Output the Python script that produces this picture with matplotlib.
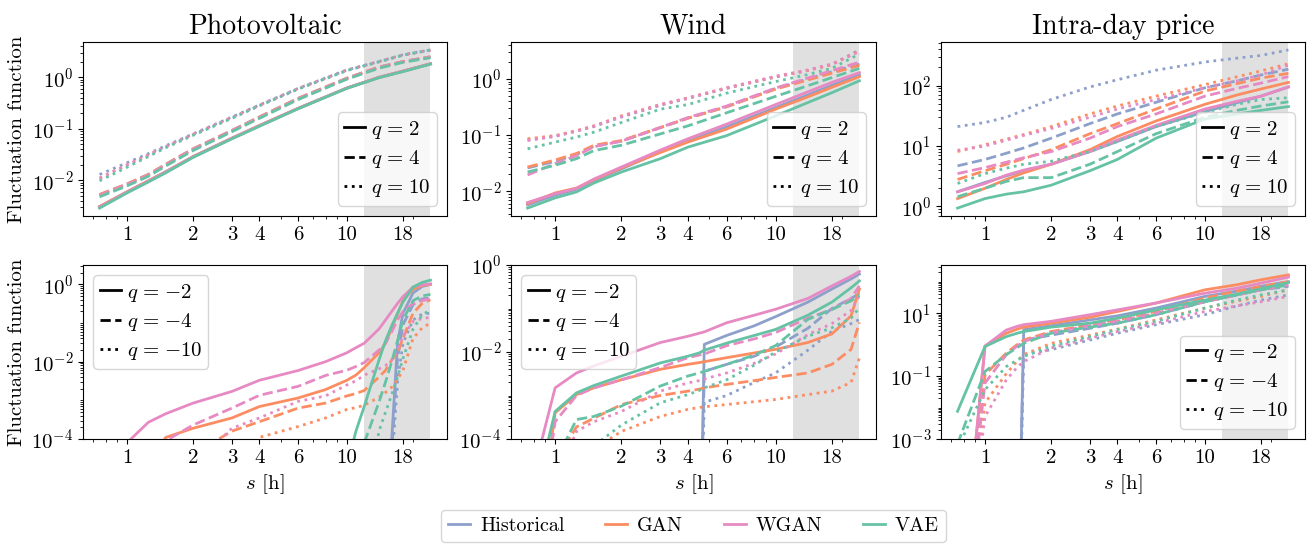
import matplotlib
matplotlib.use('Agg')
import matplotlib.pyplot as plt
from matplotlib.lines import Line2D
from matplotlib.ticker import (LogLocator, NullFormatter, FixedLocator, FixedFormatter,
                               LogFormatterSciNotation)

plt.rcParams.update({
    'font.family': 'serif',
    'font.serif': ['cmr10', 'DejaVu Serif'],
    'mathtext.fontset': 'cm',
    'axes.formatter.use_mathtext': True,
    'axes.unicode_minus': False,
    'font.size': 15,
})

# ---------------- data ----------------
MODELS = ['Historical', 'GAN', 'WGAN', 'VAE']
COLORS = {'Historical': '#8da0cb', 'GAN': '#fc8d62', 'WGAN': '#e78ac3', 'VAE': '#66c2a5'}
TITLES = ['Photovoltaic', 'Wind', 'Intra-day price']
Q_POS = [2, 4, 10]
Q_NEG = [-2, -4, -10]
X_TICKS = [1, 2, 3, 4, 6, 10, 18]
X_TICK_LABELS = ['1', '2', '3', '4', '6', '10', '18']
SHADE = (12, 24)

S_TOP = [0.75, 1, 1.25, 1.5, 2, 3, 4, 6, 10, 14, 18, 24]

# Photovoltaic, positive q
PV_Q2 = {
    'Historical': [0.0031, 0.0060, 0.0098, 0.0147, 0.029, 0.066, 0.116, 0.25, 0.62, 1.0, 1.32, 1.83],
    'GAN':        [0.0031, 0.0060, 0.0098, 0.0147, 0.029, 0.066, 0.116, 0.25, 0.62, 1.0, 1.32, 1.83],
    'WGAN':       [0.0030, 0.0059, 0.0096, 0.0145, 0.0285, 0.065, 0.114, 0.248, 0.615, 0.99, 1.31, 1.82],
    'VAE':        [0.0029, 0.0057, 0.0093, 0.014, 0.028, 0.064, 0.112, 0.245, 0.61, 0.98, 1.29, 1.8],
}
PV_Q4 = {
    'Historical': [0.0053, 0.0085, 0.013, 0.0205, 0.041, 0.093, 0.17, 0.39, 0.96, 1.58, 2.02, 2.5],
    'GAN':        [0.0053, 0.0085, 0.013, 0.0205, 0.041, 0.093, 0.17, 0.39, 0.96, 1.58, 2.02, 2.5],
    'WGAN':       [0.0051, 0.0082, 0.0125, 0.02, 0.04, 0.091, 0.166, 0.38, 0.94, 1.55, 2.0, 2.45],
    'VAE':        [0.0048, 0.0078, 0.012, 0.019, 0.038, 0.088, 0.16, 0.37, 0.92, 1.5, 1.95, 2.4],
}
PV_Q10 = {
    'Historical': [0.013, 0.022, 0.033, 0.047, 0.08, 0.17, 0.29, 0.61, 1.39, 2.03, 2.74, 3.4],
    'GAN':        [0.011, 0.020, 0.031, 0.045, 0.078, 0.165, 0.285, 0.60, 1.37, 2.0, 2.7, 3.35],
    'WGAN':       [0.011, 0.020, 0.031, 0.045, 0.078, 0.165, 0.285, 0.60, 1.37, 2.0, 2.7, 3.35],
    'VAE':        [0.0098, 0.018, 0.029, 0.043, 0.075, 0.16, 0.28, 0.59, 1.35, 2.0, 2.7, 3.4],
}

# Wind, positive q
WIND_Q2 = {
    'Historical': [0.0057, 0.0085, 0.0108, 0.0155, 0.025, 0.050, 0.078, 0.14, 0.31, 0.52, 0.77, 1.18],
    'GAN':        [0.0060, 0.0093, 0.0114, 0.016, 0.026, 0.049, 0.075, 0.128, 0.29, 0.48, 0.71, 1.1],
    'WGAN':       [0.0063, 0.0090, 0.0112, 0.0165, 0.027, 0.054, 0.086, 0.157, 0.35, 0.59, 0.87, 1.3],
    'VAE':        [0.0050, 0.0076, 0.0097, 0.014, 0.022, 0.038, 0.061, 0.098, 0.22, 0.38, 0.57, 0.93],
}
WIND_Q4 = {
    'Historical': [0.026, 0.034, 0.045, 0.063, 0.078, 0.135, 0.20, 0.32, 0.68, 1.0, 1.35, 1.85],
    'GAN':        [0.027, 0.036, 0.047, 0.066, 0.080, 0.137, 0.20, 0.32, 0.66, 0.96, 1.27, 1.75],
    'WGAN':       [0.0195, 0.031, 0.043, 0.062, 0.078, 0.137, 0.205, 0.33, 0.69, 1.04, 1.41, 2.0],
    'VAE':        [0.022, 0.029, 0.038, 0.053, 0.066, 0.105, 0.146, 0.25, 0.49, 0.76, 1.06, 1.55],
}
WIND_Q10 = {
    'Historical': [0.082, 0.095, 0.118, 0.142, 0.21, 0.34, 0.45, 0.68, 1.08, 1.42, 1.82, 3.3],
    'GAN':        [0.086, 0.098, 0.12, 0.146, 0.22, 0.35, 0.46, 0.69, 1.1, 1.42, 1.8, 3.2],
    'WGAN':       [0.080, 0.095, 0.118, 0.145, 0.215, 0.35, 0.46, 0.70, 1.12, 1.45, 1.85, 3.1],
    'VAE':        [0.057, 0.075, 0.092, 0.113, 0.168, 0.29, 0.35, 0.56, 0.9, 1.2, 1.55, 2.8],
}

# Intra-day price, positive q
PRICE_Q2 = {
    'Historical': [1.75, 2.5, 3.2, 3.9, 5.0, 8.1, 11.9, 21, 37, 52, 67, 95],
    'GAN':        [1.35, 2.0, 2.8, 3.6, 5.0, 8.7, 14.4, 26, 49, 70, 88, 113],
    'WGAN':       [1.75, 2.4, 3.3, 4.0, 5.0, 8.1, 12.6, 22, 41, 55, 67, 95],
    'VAE':        [0.94, 1.35, 1.6, 1.75, 2.25, 3.9, 6.0, 13.5, 28, 34, 39, 45],
}
PRICE_Q4 = {
    'Historical': [4.7, 6.0, 7.6, 9.3, 13.5, 23.5, 34, 53, 92, 120, 150, 187],
    'GAN':        [2.8, 3.9, 5.0, 6.2, 8.7, 16, 23.5, 41, 81, 108, 133, 160],
    'WGAN':       [3.5, 4.4, 5.4, 6.4, 8.1, 13.5, 21, 34, 67, 90, 110, 141],
    'VAE':        [1.45, 2.0, 2.6, 3.0, 3.0, 5.0, 8.1, 16, 30, 39, 46, 54],
}
PRICE_Q10 = {
    'Historical': [21, 24.5, 30, 39, 59, 95, 125, 180, 246, 285, 316, 390],
    'GAN':        [8.1, 10.5, 13, 15.5, 21, 34, 46, 67, 104, 140, 175, 230],
    'WGAN':       [8.5, 10, 12.5, 15, 19.5, 30, 41, 59, 92, 120, 150, 218],
    'VAE':        [2.4, 3.5, 4.3, 5.0, 5.6, 8.1, 11.9, 21, 36, 49, 59, 63],
}

# Photovoltaic, negative q
S_PV_NEG = [0.75, 1, 1.25, 1.5, 2, 3, 4, 6, 8, 10, 11, 12, 14, 15, 16, 17, 18, 20, 22, 24]
PV_QM2 = {
    'Historical': [1e-8, 1e-8, 1e-8, 1e-8, 1e-8, 1e-8, 1e-8, 1e-8, 1e-8, 1e-8, 1e-8, 1e-8, 1e-8, 1e-8,
                   1e-4, 0.03, 0.18, 0.6, 0.88, 1.0],
    'GAN':        [1e-8, 1e-7, 2e-5, 1.1e-4, 1.9e-4, 3.5e-4, 6.9e-4, 1.15e-3, 1.9e-3, 3.3e-3, 4.5e-3, 7e-3,
                   0.017, 0.03, 0.075, 0.17, 0.38, 0.75, 0.93, 1.0],
    'WGAN':       [1e-6, 8e-5, 2.7e-4, 4.5e-4, 8.5e-4, 1.7e-3, 3.3e-3, 5.9e-3, 1.0e-2, 1.7e-2, 2.3e-2, 3.0e-2,
                   0.07, 0.12, 0.2, 0.32, 0.48, 0.85, 0.97, 1.02],
    'VAE':        [1e-8, 1e-8, 1e-8, 1e-8, 1e-8, 1e-8, 1e-8, 1e-8, 1e-7, 2e-5, 1.6e-4, 7e-4,
                   0.011, 0.035, 0.085, 0.18, 0.35, 0.85, 1.12, 1.28],
}
PV_QM4 = {
    'Historical': [1e-8, 1e-8, 1e-8, 1e-8, 1e-8, 1e-8, 1e-8, 1e-8, 1e-8, 1e-8, 1e-8, 1e-8, 1e-8, 1e-8,
                   5e-5, 0.012, 0.09, 0.3, 0.42, 0.45],
    'GAN':        [1e-8, 1e-8, 1e-7, 5e-6, 4e-5, 1.6e-4, 2.8e-4, 6.3e-4, 8.5e-4, 1.3e-3, 1.5e-3, 1.8e-3,
                   4e-3, 6e-3, 0.011, 0.017, 0.04, 0.18, 0.32, 0.4],
    'WGAN':       [1e-8, 1e-7, 3e-5, 9e-5, 2.3e-4, 6.3e-4, 1.35e-3, 2.3e-3, 4.4e-3, 6e-3, 7.5e-3, 9.5e-3,
                   0.02, 0.03, 0.06, 0.12, 0.2, 0.32, 0.38, 0.42],
    'VAE':        [1e-8, 1e-8, 1e-8, 1e-8, 1e-8, 1e-8, 1e-8, 1e-8, 1e-8, 1e-8, 1e-6, 8e-5,
                   9e-4, 3e-3, 0.01, 0.035, 0.12, 0.38, 0.5, 0.55],
}
PV_QM10 = {
    'Historical': [1e-8, 1e-8, 1e-8, 1e-8, 1e-8, 1e-8, 1e-8, 1e-8, 1e-8, 1e-8, 1e-8, 1e-8, 1e-8, 1e-8,
                   2e-5, 3e-3, 0.03, 0.12, 0.17, 0.18],
    'GAN':        [1e-8, 1e-8, 1e-8, 1e-7, 1e-6, 1e-5, 1.1e-4, 2.1e-4, 3.5e-4, 5.8e-4, 6.5e-4, 7.5e-4,
                   1.2e-3, 1.6e-3, 2.2e-3, 3.5e-3, 6e-3, 0.04, 0.075, 0.1],
    'WGAN':       [1e-8, 1e-8, 1e-7, 1e-6, 2e-5, 1.9e-4, 3.5e-4, 9.4e-4, 1.3e-3, 2.5e-3, 3.2e-3, 4.5e-3,
                   6.5e-3, 8e-3, 0.011, 0.02, 0.045, 0.11, 0.13, 0.14],
    'VAE':        [1e-8, 1e-8, 1e-8, 1e-8, 1e-8, 1e-8, 1e-8, 1e-8, 1e-8, 1e-8, 1e-8, 1e-6,
                   1.6e-4, 5e-4, 1.4e-3, 4e-3, 0.012, 0.07, 0.16, 0.22],
}

# Wind, negative q
S_WIND_NEG = [0.75, 1, 1.25, 1.5, 2, 3, 4, 4.5, 4.75, 6, 8, 10, 14, 18, 22, 24]
WIND_QM2 = {
    'Historical': [1e-8, 1e-8, 1e-8, 1e-8, 1e-8, 1e-8, 1e-8, 1e-8, 0.015, 0.024, 0.04, 0.065, 0.14, 0.28, 0.48, 0.62],
    'GAN':        [1e-8, 4e-4, 1.05e-3, 1.5e-3, 2.3e-3, 4e-3, 5.2e-3, 5.7e-3, 6e-3, 7.4e-3, 9.5e-3, 0.0115,
                   0.0165, 0.026, 0.068, 0.28],
    'WGAN':       [5e-6, 1.5e-3, 3.3e-3, 4.8e-3, 8e-3, 0.0165, 0.023, 0.027, 0.029, 0.047, 0.07, 0.096,
                   0.17, 0.33, 0.55, 0.71],
    'VAE':        [1e-6, 4.3e-4, 1.15e-3, 1.7e-3, 2.8e-3, 5.6e-3, 8e-3, 9.5e-3, 0.011, 0.016, 0.024, 0.033,
                   0.07, 0.14, 0.3, 0.43],
}
WIND_QM4 = {
    'Historical': [1e-8, 1e-8, 1e-8, 1e-8, 1e-8, 1e-8, 1e-8, 1e-8, 3.6e-3, 5.2e-3, 8e-3, 0.013, 0.035, 0.1, 0.17, 0.22],
    'GAN':        [1e-8, 3e-5, 1.9e-4, 3e-4, 6.2e-4, 1e-3, 1.26e-3, 1.4e-3, 1.5e-3, 1.8e-3, 2.2e-3, 2.6e-3,
                   3.3e-3, 5.2e-3, 0.0115, 0.048],
    'WGAN':       [1e-8, 2.5e-4, 1e-3, 1.5e-3, 2.3e-3, 4.4e-3, 7.4e-3, 8.5e-3, 9e-3, 0.014, 0.02, 0.028,
                   0.06, 0.095, 0.17, 0.33],
    'VAE':        [1e-8, 3e-5, 2.8e-4, 3.3e-4, 5.7e-4, 1.65e-3, 2.8e-3, 3.3e-3, 3.6e-3, 5.2e-3, 8.5e-3, 0.014,
                   0.056, 0.095, 0.15, 0.2],
}
WIND_QM10 = {
    'Historical': [1e-8, 1e-8, 1e-8, 1e-8, 1e-8, 1e-8, 1e-8, 1e-8, 7e-4, 1e-3, 2e-3, 3.3e-3, 0.011, 0.03, 0.045, 0.056],
    'GAN':        [1e-8, 1e-8, 1e-6, 6e-5, 1.5e-4, 3.3e-4, 4.8e-4, 5.3e-4, 5.5e-4, 6.2e-4, 7.2e-4, 8.1e-4,
                   1.05e-3, 1.26e-3, 2e-3, 7.4e-3],
    'WGAN':       [1e-8, 1e-5, 1.5e-4, 2.5e-4, 4.3e-4, 1.26e-3, 1.95e-3, 2.2e-3, 2.4e-3, 3.3e-3, 5.5e-3, 9e-3,
                   0.025, 0.045, 0.09, 0.2],
    'VAE':        [1e-8, 1e-8, 1e-6, 7e-5, 2.1e-4, 6.8e-4, 1.05e-3, 1.3e-3, 1.5e-3, 2.3e-3, 5e-3, 0.01,
                   0.023, 0.036, 0.06, 0.105],
}

# Intra-day price, negative q
S_PRICE_NEG = [0.75, 1, 1.25, 1.4, 1.5, 2, 3, 4, 6, 10, 14, 18, 24]
PRICE_QM2 = {
    'Historical': [1e-9, 1e-9, 1e-9, 1e-9, 3.0, 4.0, 6.1, 8.2, 14.5, 34, 50, 71, 100],
    'GAN':        [1e-9, 0.9, 2.3, 3.1, 3.6, 4.8, 7.4, 11.3, 21, 55, 80, 115, 165],
    'WGAN':       [1e-9, 0.9, 2.9, 3.8, 4.3, 5.5, 8.9, 12.7, 21, 43, 62, 90, 140],
    'VAE':        [7.6e-3, 0.87, 1.8, 2.3, 2.6, 3.6, 4.8, 6.9, 12.7, 26, 40, 60, 94],
}
PRICE_QM4 = {
    'Historical': [1e-9, 1e-9, 1e-9, 1e-9, 1.4, 2.0, 3.3, 4.8, 8.9, 23, 38, 55, 71],
    'GAN':        [1e-9, 0.11, 0.54, 1.0, 1.4, 2.6, 4.3, 6.1, 11.3, 30, 50, 71, 100],
    'WGAN':       [1e-9, 0.06, 0.48, 0.9, 1.26, 2.4, 4.0, 5.5, 10, 23, 38, 55, 79],
    'VAE':        [7e-4, 0.14, 0.48, 0.8, 1.1, 2.3, 3.6, 4.8, 8.9, 23, 38, 55, 79],
}
PRICE_QM10 = {
    'Historical': [1e-9, 1e-9, 1e-9, 1e-9, 0.48, 0.69, 1.4, 2.3, 4.3, 8.9, 17, 26, 38],
    'GAN':        [1e-9, 0.014, 0.12, 0.3, 0.48, 1.1, 2.0, 3.1, 6.1, 14.5, 24, 34, 55],
    'WGAN':       [1e-9, 5.2e-3, 0.076, 0.19, 0.29, 0.78, 1.6, 2.6, 4.8, 11.3, 17, 23, 34],
    'VAE':        [5e-4, 0.037, 0.2, 0.32, 0.42, 0.9, 1.8, 3.0, 5.5, 14.5, 26, 38, 55],
}

# ---------------- layout / style ----------------
LS = ['-', '--', ':']
LW = 2.0

W, H = 1310, 544
fig = plt.figure(figsize=(W / 100, H / 100), dpi=100)

def rect(x0, y0, x1, y1):
    return [x0 / W, 1 - y1 / H, (x1 - x0) / W, (y1 - y0) / H]

col_x = [(83, 447), (511, 876), (941, 1305)]
row_y = [(42, 216), (265, 439)]

panels = [
    (0, 0, S_TOP, [PV_Q2, PV_Q4, PV_Q10], Q_POS, None, 'lower right'),
    (0, 1, S_TOP, [WIND_Q2, WIND_Q4, WIND_Q10], Q_POS, None, 'lower right'),
    (0, 2, S_TOP, [PRICE_Q2, PRICE_Q4, PRICE_Q10], Q_POS, None, 'lower right'),
    (1, 0, S_PV_NEG, [PV_QM2, PV_QM4, PV_QM10], Q_NEG, (1e-4, 10 ** 0.5), 'upper left'),
    (1, 1, S_WIND_NEG, [WIND_QM2, WIND_QM4, WIND_QM10], Q_NEG, (1e-4, 1.0), 'upper left'),
    (1, 2, S_PRICE_NEG, [PRICE_QM2, PRICE_QM4, PRICE_QM10], Q_NEG, (1e-3, 10 ** 2.53), 'lower right'),
]

MAJOR_Y = {
    (1, 0): [1e-4, 1e-2, 1e0],
    (1, 1): [1e-4, 1e-2, 1e0],
    (1, 2): [1e-3, 1e-1, 1e1],
}

def q_label(q):
    return r'$q\hspace{0.12}=\hspace{0.12}{%d}$' % q

for r, c, s, series, qs, ylim, loc in panels:
    ax = fig.add_axes(rect(col_x[c][0], row_y[r][0], col_x[c][1], row_y[r][1]))
    ax.set_xscale('log')
    ax.set_yscale('log')
    ax.axvspan(SHADE[0], SHADE[1], color='#e0e0e0', zorder=0, lw=0)
    for m in MODELS:
        for qi, data in enumerate(series):
            ax.plot(s, data[m], color=COLORS[m], ls=LS[qi], lw=LW, zorder=2)
    if ylim is not None:
        ax.set_ylim(*ylim)
        ax.yaxis.set_major_locator(FixedLocator(MAJOR_Y[(r, c)]))
        ax.yaxis.set_minor_locator(LogLocator(base=10, subs=[1, 2, 3, 4, 5, 6, 7, 8, 9], numticks=100))
        ax.yaxis.set_minor_formatter(NullFormatter())
    ax.yaxis.set_major_formatter(LogFormatterSciNotation())
    ax.xaxis.set_major_locator(FixedLocator(X_TICKS))
    ax.xaxis.set_major_formatter(FixedFormatter(X_TICK_LABELS))
    ax.xaxis.set_minor_locator(LogLocator(base=10, subs=[1, 2, 3, 4, 5, 6, 7, 8, 9], numticks=100))
    ax.xaxis.set_minor_formatter(NullFormatter())
    ax.tick_params(labelsize=15)
    if r == 0:
        ax.set_title(TITLES[c], fontsize=20)
    if c == 0:
        ax.set_ylabel('Fluctuation function', fontsize=15)
    if r == 1:
        ax.set_xlabel('$s$ [h]', fontsize=15)
    handles = [Line2D([], [], color='k', ls=LS[i], lw=LW) for i in range(3)]
    labels = [q_label(q) for q in qs]
    ax.legend(handles, labels, loc=loc, fontsize=15, handlelength=1.0,
              handletextpad=0.3, borderpad=0.3, labelspacing=0.35)

# figure legend centred under the middle column
mid_center = (col_x[1][0] + col_x[1][1]) / 2 / W
fig_handles = [Line2D([], [], color=COLORS[m], lw=LW) for m in MODELS]
fig.legend(fig_handles, MODELS, loc='upper center', bbox_to_anchor=(mid_center, 1 - 510 / H),
           borderaxespad=0.0, ncol=4, fontsize=14.5, handlelength=1.1, handletextpad=0.5,
           columnspacing=2.0, borderpad=0.35)

fig.savefig('out.png', dpi=100)
